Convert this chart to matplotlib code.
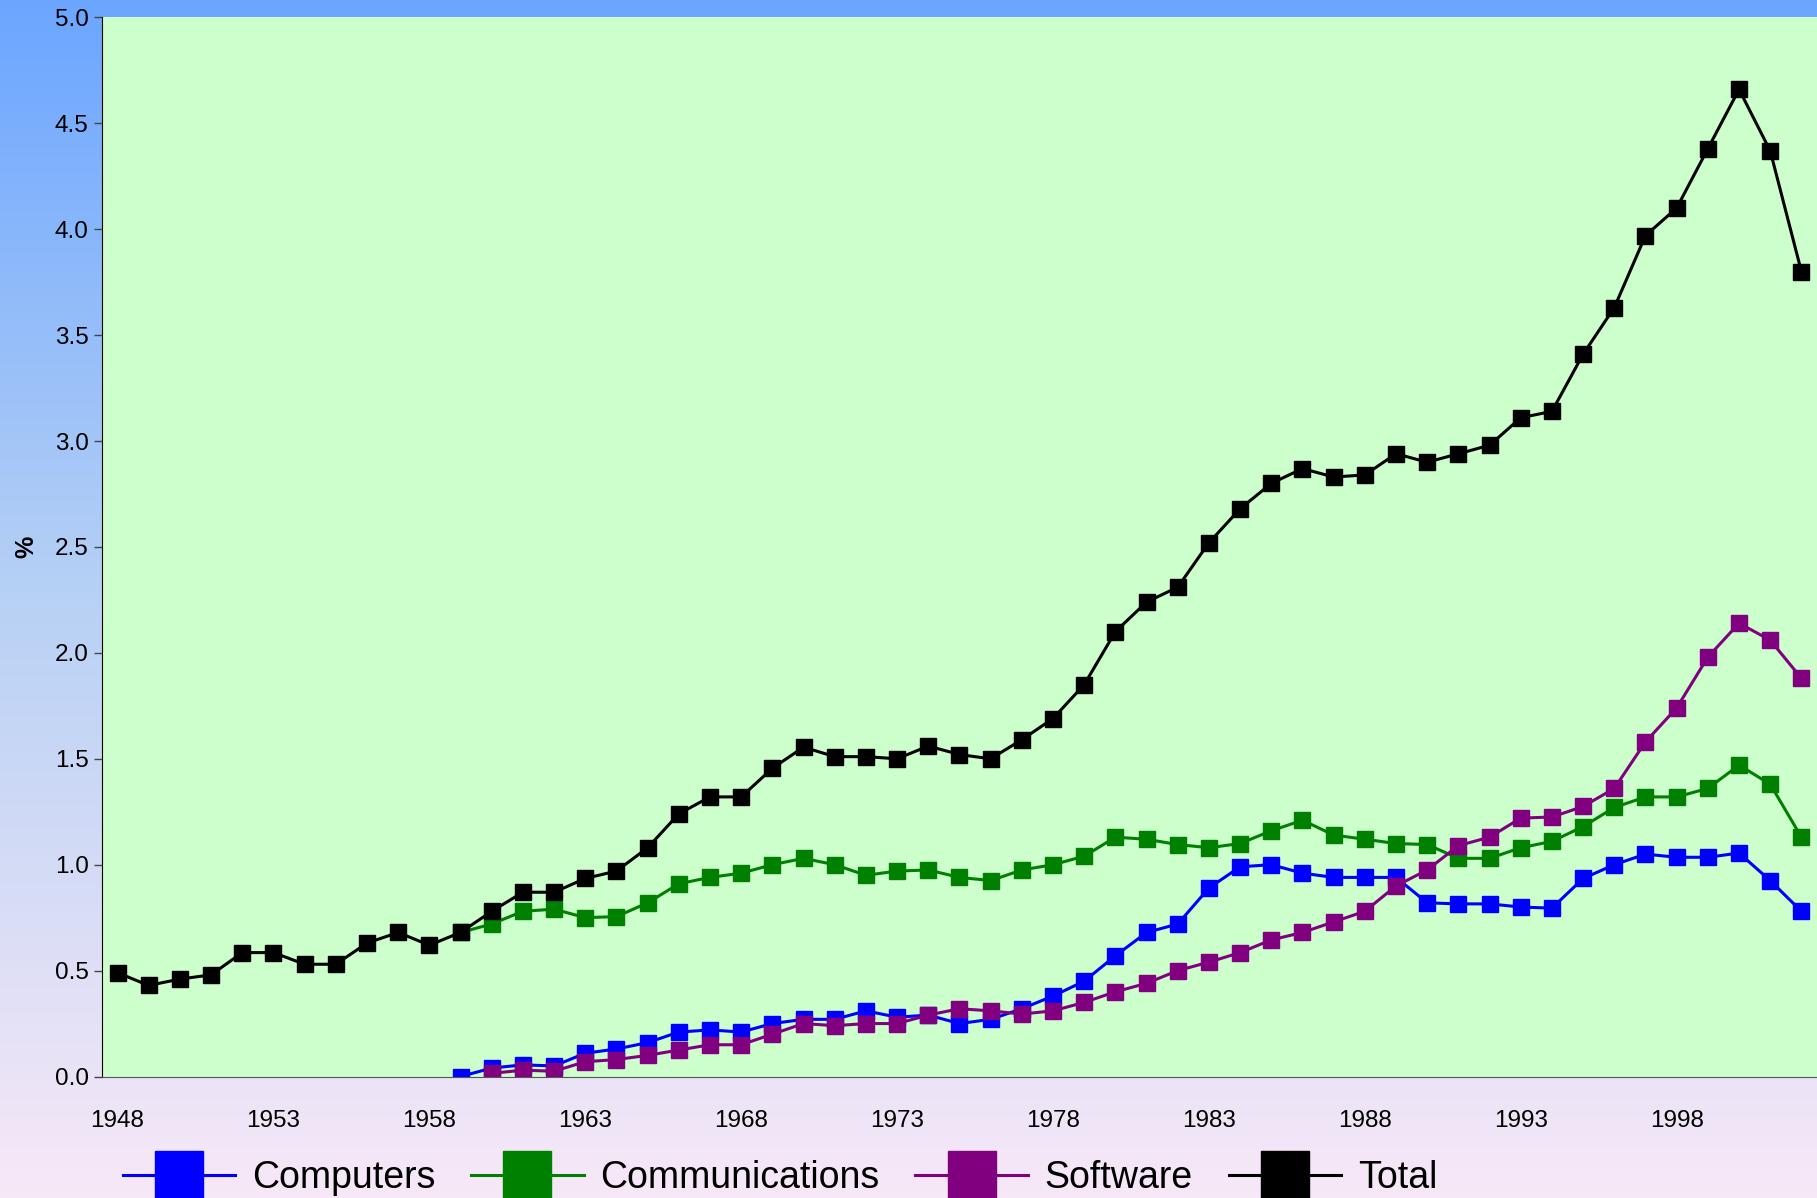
import matplotlib
matplotlib.use("Agg")
import matplotlib.pyplot as plt
import numpy as np

plt.rcParams['font.family'] = ['Liberation Sans', 'DejaVu Sans']

years_total = list(range(1948, 2003))
years_comp = list(range(1959, 2003))
years_soft = list(range(1960, 2003))

total = [0.49, 0.43, 0.46, 0.48, 0.585, 0.585, 0.53, 0.53, 0.63, 0.68,
         0.62, 0.68, 0.78, 0.87, 0.87, 0.935, 0.97, 1.08, 1.24, 1.32,
         1.32, 1.455, 1.555, 1.51, 1.51, 1.50, 1.56, 1.52, 1.50, 1.59,
         1.69, 1.85, 2.10, 2.24, 2.31, 2.52, 2.68, 2.80, 2.87, 2.83,
         2.84, 2.94, 2.90, 2.94, 2.98, 3.11, 3.14, 3.41, 3.63, 3.97,
         4.10, 4.38, 4.66, 4.37, 3.80]

communications = [0.68, 0.72, 0.78, 0.79, 0.75, 0.755, 0.82, 0.91, 0.94, 0.96,
                  1.00, 1.03, 1.00, 0.95, 0.97, 0.975, 0.94, 0.925, 0.975, 1.00,
                  1.04, 1.13, 1.12, 1.095, 1.08, 1.10, 1.16, 1.21, 1.14, 1.12,
                  1.10, 1.095, 1.03, 1.03, 1.08, 1.11, 1.18, 1.27, 1.32, 1.32,
                  1.36, 1.47, 1.38, 1.13]

computers = [0.00, 0.04, 0.055, 0.05, 0.11, 0.13, 0.16, 0.21, 0.22, 0.21,
             0.25, 0.27, 0.27, 0.31, 0.28, 0.29, 0.25, 0.27, 0.32, 0.38,
             0.45, 0.57, 0.68, 0.72, 0.89, 0.99, 1.00, 0.96, 0.94, 0.94,
             0.94, 0.82, 0.815, 0.815, 0.80, 0.795, 0.935, 1.00, 1.05, 1.035,
             1.035, 1.055, 0.925, 0.78]

software = [0.015, 0.03, 0.025, 0.07, 0.08, 0.10, 0.125, 0.15, 0.15,
            0.20, 0.25, 0.24, 0.25, 0.25, 0.29, 0.32, 0.31, 0.295, 0.31,
            0.35, 0.40, 0.44, 0.50, 0.54, 0.585, 0.645, 0.68, 0.73, 0.78,
            0.90, 0.975, 1.09, 1.13, 1.22, 1.225, 1.275, 1.36, 1.58, 1.74,
            1.98, 2.14, 2.06, 1.88]

xticks = [1948, 1953, 1958, 1963, 1968, 1973, 1978, 1983, 1988, 1993, 1998]

fig = plt.figure(figsize=(18.17, 11.98), dpi=100)

# gradient background of the whole figure
bg = fig.add_axes([0, 0, 1, 1], zorder=-10)
top_c = np.array([0.42, 0.65, 1.0])
mid_c = np.array([0.72, 0.82, 0.96])
bot_c = np.array([0.97, 0.91, 0.97])
t = np.linspace(0, 1, 400)[:, None]
grad = np.where(t < 0.5, top_c + (mid_c - top_c) * (t / 0.5),
                mid_c + (bot_c - mid_c) * ((t - 0.5) / 0.5))
bg.imshow(grad[:, None, :].repeat(2, axis=1), aspect='auto', extent=[0, 1, 0, 1])
bg.axis('off')

ax = fig.add_axes([0.0561, 0.1014, 0.9439, 0.8841])
ax.set_facecolor('#ccffcc')

ms = 12
lw = 2.2
ax.plot(years_comp, computers, color='#0000ff', marker='s', ms=ms, lw=lw, label='Computers')
ax.plot(years_comp, communications, color='#008000', marker='s', ms=ms, lw=lw, label='Communications')
ax.plot(years_soft, software, color='#800080', marker='s', ms=ms, lw=lw, label='Software')
ax.plot(years_total, total, color='#000000', marker='s', ms=ms, lw=lw, label='Total')

ax.set_xlim(1947.5, 2002.5)
ax.set_ylim(0, 5.0)
ax.set_yticks(np.arange(0, 5.01, 0.5))
ax.set_yticklabels(['%.1f' % v for v in np.arange(0, 5.01, 0.5)])
ax.set_xticks(xticks)
ax.tick_params(axis='y', labelsize=17.5, length=6, width=1, color='#444444')
ax.tick_params(axis='x', labelsize=17.5, length=0, pad=24)
ax.set_ylabel('%', fontsize=18, fontweight='bold', labelpad=12)

for s in ['top', 'right']:
    ax.spines[s].set_visible(False)
ax.spines['left'].set_color('black')
ax.spines['bottom'].set_color('#555555')

fig.legend(loc='center left', bbox_to_anchor=(0.049, 0.017), ncol=4, frameon=False,
           fontsize=27, markerscale=2.9, handlelength=3.0, handletextpad=0.45,
           columnspacing=0.95)

fig.savefig('out.png', dpi=100)
